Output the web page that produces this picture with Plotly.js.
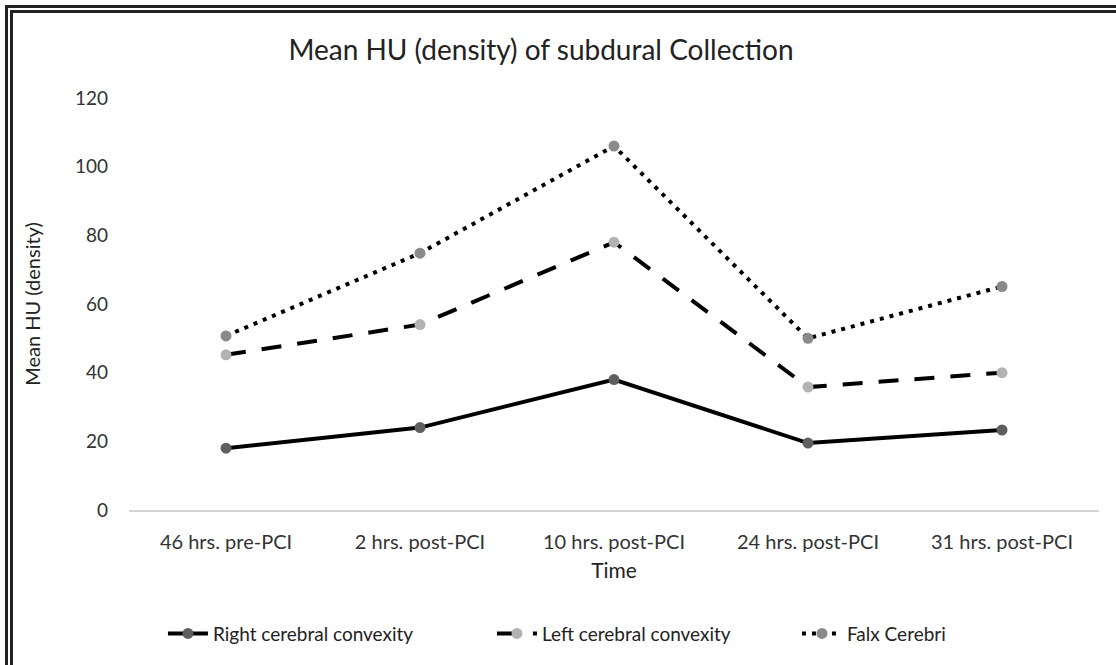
<!DOCTYPE html>
<html>
<head>
<meta charset="utf-8">
<script src="https://cdn.plot.ly/plotly-3.0.1.min.js"></script>
<style>
  html, body { margin: 0; padding: 0; background: #fff; }
  #wrap { position: relative; width: 1116px; height: 665px; overflow: hidden; }
  #chart { position: absolute; left: 0; top: 0; width: 1116px; height: 665px; }
  #frame { position: absolute; left: 5px; top: 5px; width: 1200px; height: 800px;
           border-top: 8px double #222; border-left: 8px double #222; pointer-events: none; }
</style>
</head>
<body>
<div id="wrap">
  <div id="chart"></div>
  <div id="frame"></div>
</div>
<script>
const categories = ["46 hrs. pre-PCI", "2 hrs. post-PCI", "10 hrs. post-PCI", "24 hrs. post-PCI", "31 hrs. post-PCI"];
const rightConvexity = [18, 24, 38, 19.5, 23.3];
const leftConvexity = [45.2, 54, 78, 35.8, 40];
const falxCerebri = [50.7, 74.8, 106, 50, 65.1];
const yTicks = [0, 20, 40, 60, 80, 100, 120];

const FONT = "Lato, 'Open Sans', sans-serif";

const traces = [
  { x: categories, y: rightConvexity, name: "Right cerebral convexity", type: "scatter", mode: "lines+markers",
    legendwidth: 274,
    line: { color: "#000", width: 4 }, marker: { color: "#5f5f5f", size: 11 } },
  { x: categories, y: leftConvexity, name: "Left cerebral convexity", type: "scatter", mode: "lines+markers",
    legendwidth: 250,
    line: { color: "#000", width: 4, dash: "20px,16px" }, marker: { color: "#b3b3b3", size: 11 } },
  { x: categories, y: falxCerebri, name: "Falx Cerebri", type: "scatter", mode: "lines+markers",
    line: { color: "#000", width: 4, dash: "4px,6px" }, marker: { color: "#8a8a8a", size: 11 } }
];

const layout = {
  width: 1116, height: 665,
  paper_bgcolor: "#fff", plot_bgcolor: "#fff",
  margin: { l: 129, r: 17, t: 98, b: 155, autoexpand: false },
  font: { family: FONT, color: "#333", size: 19 },
  title: { text: "Mean HU (density) of subdural Collection", x: 541 / 1116, xref: "container", xanchor: "center",
           y: 0.925, yref: "container", yanchor: "middle", font: { family: FONT, size: 28, color: "#222" } },
  xaxis: { type: "category", range: [-0.5, 4.5], showgrid: false, zeroline: false,
           showline: true, linecolor: "#d4d4d4", linewidth: 1.5, ticks: "",
           ticklabelstandoff: 13,
           tickfont: { family: FONT, size: 20, color: "#333" },
           title: { text: "Time", standoff: 12, font: { family: FONT, size: 21, color: "#222" } } },
  yaxis: { range: [0, 120], tickvals: yTicks, showgrid: false, zeroline: false, showline: false, ticks: "",
           ticklabelstandoff: 20,
           tickfont: { family: FONT, size: 19, color: "#333" },
           title: { text: "Mean HU (density)", standoff: 28, font: { family: FONT, size: 20, color: "#222" } } },
  showlegend: true,
  legend: { orientation: "h", x: 0.035, xanchor: "left", y: -0.30, yanchor: "middle",
            font: { family: FONT, size: 19, color: "#222" }, itemwidth: 40, traceorder: "normal" }
};

Plotly.newPlot("chart", traces, layout, { displayModeBar: false, staticPlot: true });
</script>
</body>
</html>
